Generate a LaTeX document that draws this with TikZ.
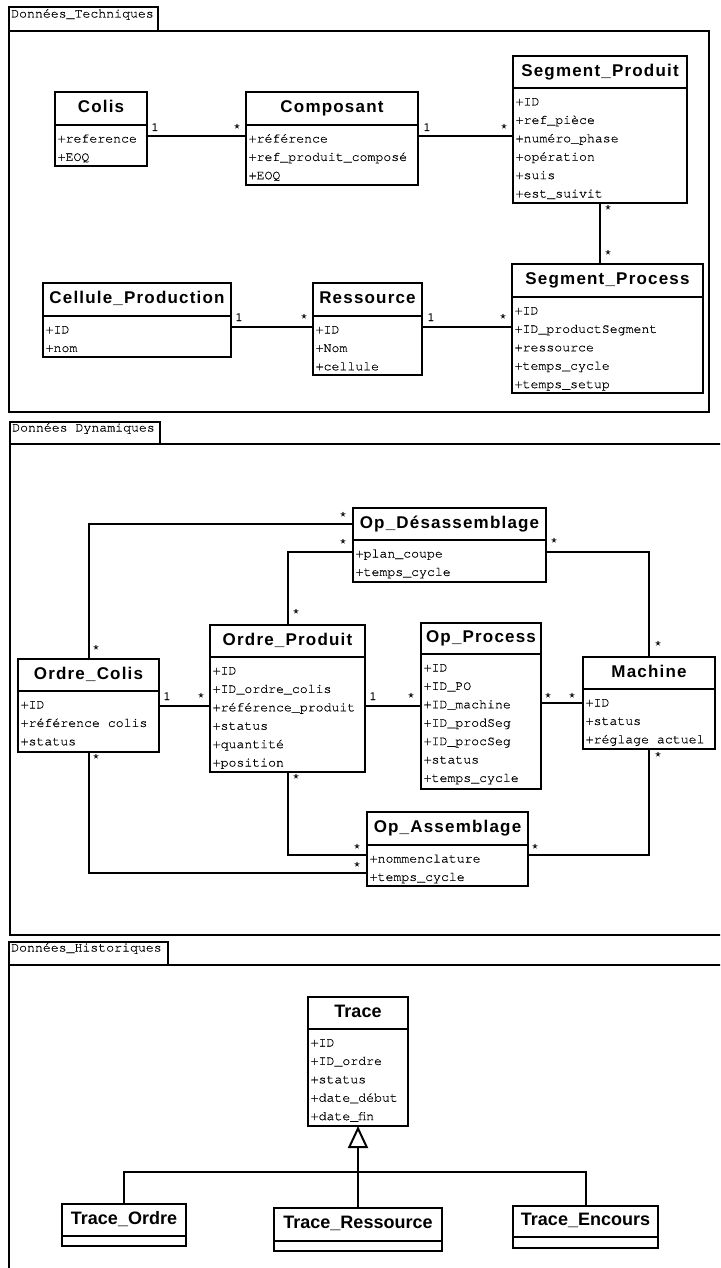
\documentclass[tikz,border=0pt]{standalone}
\usepackage{fontspec}
\usetikzlibrary{calc,arrows.meta}
\newfontfamily\ttlfont[LetterSpace=7]{Liberation Sans}
\newfontfamily\ttlfontb{Liberation Sans}
\newfontfamily\monofont[FakeBold=0.4]{texgyrecursor-regular.otf}
\tikzset{
 clsbox/.style={draw, line width=2pt, inner sep=0pt, outer sep=0pt, fill=white},
 divline/.style={line width=2pt},
 ttl/.style={font=\ttlfont\bfseries\fontsize{17}{19}\selectfont, inner sep=0pt},
 ttlb/.style={font=\ttlfontb\bfseries\fontsize{18}{20}\selectfont, inner sep=0pt},
 attr/.style={font=\monofont\fontsize{13.2}{15}\selectfont, inner sep=0pt},
 mult/.style={font=\monofont\fontsize{12.5}{14}\selectfont, inner sep=0pt, anchor=base},
 conn/.style={line width=2pt},
 pkg/.style={line width=2pt},
 pkglabel/.style={font=\monofont\fontsize{13.2}{15}\selectfont, inner sep=0pt, anchor=base west},
}
\newcommand{\umlclass}[8]{%
  \node[clsbox, minimum width=#4pt, minimum height=#5pt, anchor=north west] (#1) at (#2,#3) {};
  \coordinate (#1-dl) at (#2,#6);
  \draw[divline] (#1-dl) -- (#1.east |- #1-dl);
  \node[#7, anchor=base] (#1-t) at ($(#1.north)!0.5!(#1.north |- #1-dl)+(0,4.2)$) {#8};
}
\newcommand{\attrs}[2]{%
  \foreach \a [count=\i] in {#2} {
    \node[attr, anchor=base west] (#1-a\i) at ($(#1-dl)+(2.5,{17.5+(\i-1)*18.4})$) {\a};
  }
}
\begin{document}
\begin{tikzpicture}[x=1pt,y=-1pt]
\useasboundingbox (0,0) rectangle (720,1268);
\clip (0,0) rectangle (720,1268);
\fill[white] (0,0) rectangle (720,1268);

% ---------- Package 1 ----------
\draw[pkg] (9,7) rectangle (158,31);
\node[pkglabel] (p1lab) at (11,17.5) {Données\_Techniques};
\draw[pkg] (9,31) rectangle (709,412);

\umlclass{colis}{55}{92}{92}{74}{125}{ttl}{Colis}
\attrs{colis}{+reference,+EOQ}
\umlclass{composant}{246}{92}{172}{93}{125}{ttl}{Composant}
\attrs{composant}{+référence,+ref\_produit\_composé,+EOQ}
\umlclass{segprod}{513}{56}{174}{147}{88}{ttl}{Segment\_Produit}
\attrs{segprod}{+ID,+ref\_pièce,+numéro\_phase,+opération,+suis,+est\_suivit}
\umlclass{segproc}{512}{264}{191}{129}{297}{ttl}{Segment\_Process}
\attrs{segproc}{+ID,+ID\_productSegment,+ressource,+temps\_cycle,+temps\_setup}
\umlclass{cellule}{43}{283}{188}{74}{316}{ttl}{Cellule\_Production}
\attrs{cellule}{+ID,+nom}
\umlclass{ressource}{313}{283}{109}{92}{316}{ttl}{Ressource}
\attrs{ressource}{+ID,+Nom,+cellule}

\draw[conn] (colis.east |- 0,136) -- (composant.west |- 0,136);
\draw[conn] (composant.east |- 0,136) -- (segprod.west |- 0,136);
\draw[conn] (segprod.south) -- (segprod.south |- segproc.north);
\draw[conn] (cellule.east |- 0,327) -- (ressource.west |- 0,327);
\draw[conn] (ressource.east |- 0,327) -- (segproc.west |- 0,327);

\node[mult] (m1) at (155,131) {1};
\node[mult] (m2) at (237,131.5) {*};
\node[mult] (m3) at (427,131) {1};
\node[mult] (m4) at (504,131.5) {*};
\node[mult] (m5) at (608,212.5) {*};
\node[mult] (m6) at (608,257.5) {*};
\node[mult] (m7) at (239,321) {1};
\node[mult] (m8) at (304,321.5) {*};
\node[mult] (m9) at (431,321) {1};
\node[mult] (m10) at (503,321.5) {*};

% ---------- Package 2 ----------
\draw[pkg] (10,422) rectangle (160,444);
\node[pkglabel] (p2lab) at (12,431.5) {Données Dynamiques};
\draw[pkg] (730,935) -- (10,935) -- (10,444) -- (730,444);

\umlclass{opdes}{353}{508}{193}{74}{540}{ttl}{Op\_Désassemblage}
\attrs{opdes}{+plan\_coupe,+temps\_cycle}
\umlclass{ordrecolis}{18}{659}{141}{93}{691}{ttl}{Ordre\_Colis}
\attrs{ordrecolis}{+ID,+référence colis,+status}
\umlclass{ordreprod}{210}{625}{155}{147}{657}{ttl}{Ordre\_Produit}
\attrs{ordreprod}{+ID,+ID\_ordre\_colis,+référence\_produit,+status,+quantité,+position}
\umlclass{opproc}{421}{623}{120}{166}{654}{ttl}{Op\_Process}
\attrs{opproc}{+ID,+ID\_PO,+ID\_machine,+ID\_prodSeg,+ID\_procSeg,+status,+temps\_cycle}
\umlclass{machine}{583}{657}{132}{92}{689}{ttl}{Machine}
\attrs{machine}{+ID,+status,+réglage actuel}
\umlclass{opass}{367}{812}{161}{74}{845}{ttl}{Op\_Assemblage}
\attrs{opass}{+nommenclature,+temps\_cycle}

\draw[conn] (ordrecolis.north) |- (opdes.west |- 0,524);
\draw[conn] (ordreprod.north) |- (opdes.west |- 0,552);
\draw[conn] (opdes.east |- 0,552) -| (machine.north);
\draw[conn] (ordrecolis.east |- 0,706) -- (ordreprod.west |- 0,706);
\draw[conn] (ordreprod.east |- 0,706) -- (opproc.west |- 0,706);
\draw[conn] (opproc.east |- 0,703) -- (machine.west |- 0,703);
\draw[conn] (ordreprod.south) |- (opass.west |- 0,855);
\draw[conn] (ordrecolis.south) |- (opass.west |- 0,873);
\draw[conn] (machine.south) |- (opass.east |- 0,855);

\node[mult] (m11) at (343,519.5) {*};
\node[mult] (m12) at (343,546.5) {*};
\node[mult] (m13) at (554,545.5) {*};
\node[mult] (m14) at (96,652.5) {*};
\node[mult] (m15) at (296,616.5) {*};
\node[mult] (m16) at (96,761.5) {*};
\node[mult] (m17) at (296,781.5) {*};
\node[mult] (m18) at (167,700) {1};
\node[mult] (m19) at (201,700.5) {*};
\node[mult] (m20) at (373,700) {1};
\node[mult] (m21) at (411,700.5) {*};
\node[mult] (m22) at (548,700.5) {*};
\node[mult] (m23) at (572,700.5) {*};
\node[mult] (m24) at (658,648.5) {*};
\node[mult] (m25) at (658,759.5) {*};
\node[mult] (m26) at (357,851.5) {*};
\node[mult] (m27) at (357,869.5) {*};
\node[mult] (m28) at (535,851.5) {*};

% ---------- Package 3 ----------
\draw[pkg] (9,942) rectangle (168,965);
\node[pkglabel] (p3lab) at (11,951.5) {Données\_Historiques};
\draw[pkg] (730,965) -- (9,965) -- (9,1300);

\umlclass{trace}{308}{997}{100}{129}{1029}{ttlb}{Trace}
\attrs{trace}{+ID,+ID\_ordre,+status,+date\_début,+date\_fin}
\umlclass{traceordre}{62}{1204}{124}{42}{1236}{ttlb}{Trace\_Ordre}
\umlclass{traceress}{274}{1208}{168}{43}{1241}{ttlb}{Trace\_Ressource}
\umlclass{traceenc}{513}{1206}{145}{42}{1237}{ttlb}{Trace\_Encours}

\coordinate (bar) at (358,1172);
\draw[conn] (traceordre.north) |- (bar) -| (traceenc.north);
\draw[conn, -{Triangle[open, length=22pt, width=20pt, line width=2pt]}] (traceress.north) -- (traceress.north |- trace.south);
\end{tikzpicture}
\end{document}
